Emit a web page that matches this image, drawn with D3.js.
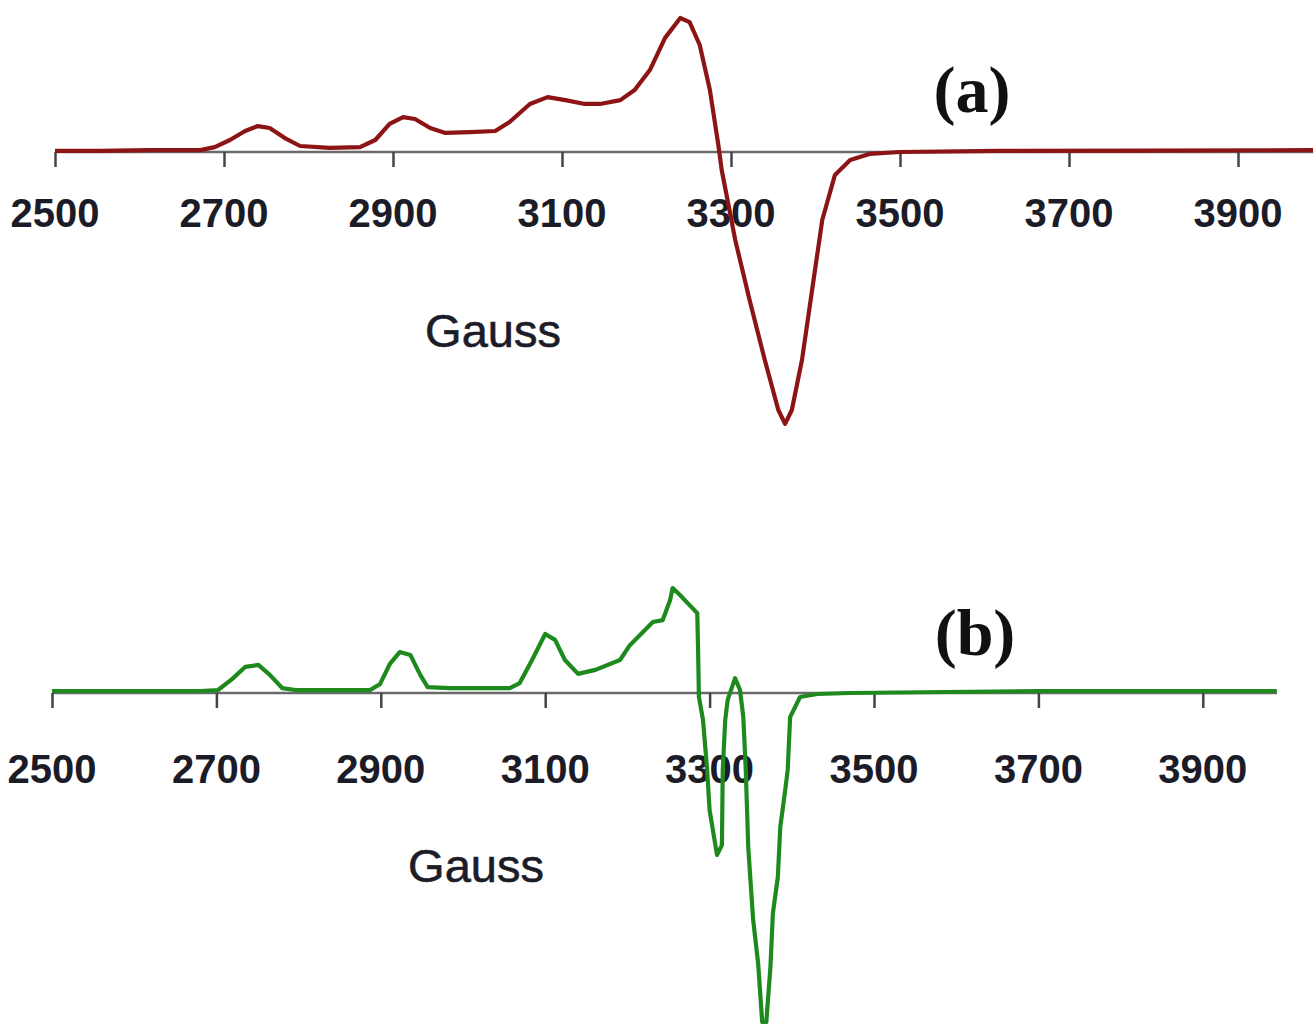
<!DOCTYPE html>
<html>
<head>
<meta charset="utf-8">
<script src="https://cdn.jsdelivr.net/npm/d3@7"></script>
<style>
    body { margin: 0; background: #fff; }
    svg { display: block; }
    .tick_label { font-family: "Liberation Sans", Arial, sans-serif; font-weight: bold; font-size: 40px; fill: #1c1c28; }
    .axis_title { font-family: "Liberation Sans", Arial, sans-serif; font-size: 47px; fill: #1c1c28; stroke: #1c1c28; stroke-width: 0.6px; }
    .panel_tag { font-family: "Liberation Serif", "Times New Roman", serif; font-weight: bold; font-size: 66px; fill: #111; }
</style>
</head>
<body>
<svg id="chart" width="1313" height="1028"></svg>
<script>
// data
const tick_values= [2500, 2700, 2900, 3100, 3300, 3500, 3700, 3900]

// spectrum (a) -- field in gauss, signal in arbitrary units
const field_a= [2500, 2553, 2612, 2672, 2689, 2707, 2725, 2740, 2754, 2772, 2790, 2825, 2861,
    2879, 2896, 2912, 2926, 2944, 2962, 2991, 3021, 3038, 3062, 3083, 3104, 3127, 3145,
    3169, 3186, 3204, 3222, 3240, 3251, 3263, 3275, 3285, 3289, 3305, 3322, 3340, 3356,
    3364, 3372, 3384, 3396, 3408, 3423, 3441, 3464, 3500, 3618, 3800, 4000]
const signal_a= [0.4, 0.4, 0.7, 0.7, 1.8, 4.4, 7.7, 9.5, 8.8, 5.1, 2.2, 1.5, 1.8,
    4.4, 10.3, 12.8, 12.1, 8.8, 7.0, 7.3, 7.7, 11.0, 17.6, 20.1, 19.0, 17.6, 17.6,
    19.0, 22.7, 30.0, 41.8, 49.1, 47.6, 39.2, 22.7, 2.6, -6.6, -32.2, -54.2, -76.2, -94.5,
    -99.6, -94.5, -76.2, -50.5, -24.9, -8.4, -2.9, -0.7, 0, 0.4, 0.5, 0.7]

// spectrum (b)
const field_b= [2500, 2583, 2680, 2702, 2719, 2735, 2751, 2765, 2780, 2796, 2887, 2899, 2911,
    2923, 2936, 2948, 2957, 2984, 3057, 3069, 3084, 3100, 3112, 3124, 3140, 3161, 3191,
    3203, 3231, 3243, 3252, 3255, 3264, 3273, 3285, 3286, 3287, 3292, 3297, 3300, 3309,
    3315, 3316, 3319, 3322, 3331, 3337, 3341, 3344, 3347, 3353, 3359, 3364, 3369, 3374,
    3377, 3383, 3386, 3392, 3395, 3398, 3410, 3431, 3471, 3700, 3990]
const signal_b= [0.6, 0.6, 0.6, 0.9, 4.2, 7.9, 8.5, 5.5, 1.5, 0.9, 0.9, 2.7, 8.8,
    12.4, 11.5, 5.5, 1.8, 1.5, 1.5, 3.0, 10.0, 17.9, 16.1, 10.0, 5.8, 7.0, 10.0,
    14.5, 21.5, 22.1, 28.2, 31.8, 29.7, 27.3, 24.2, 13.0, -1.2, -8.2, -23.3, -35.5, -49.1,
    -46.1, -23.3, -8.2, -2.1, 4.5, 0.9, -7.3, -23.3, -46.7, -68.8, -81.8, -99.7, -99.7, -83.0,
    -66.7, -55.8, -40.6, -29.4, -23.3, -7.3, -1.2, -0.3, 0, 0.6, 0.6]

const svg= d3.select("#chart")

function draw_panel({field, signal, color, x_range, y_range, axis_end, label_y, title_x, title_y, tag, tag_x, tag_y}) {
    // scales
    let x= d3.scaleLinear().domain([2500, 4000]).range(x_range)
    let y= d3.scaleLinear().domain([-100, 0]).range(y_range)
    let g= svg.append("g")

    // axis line + tick marks
    let axis= d3.axisBottom(x)
        .tickValues(tick_values)
        .tickSize(15)
        .tickFormat("")
    let axis_g= g.append("g")
        .attr("transform", `translate(0,${y(0)})`)
        .call(axis)
    axis_g.select(".domain")
        .attr("d", `M${x(2500)},0H${axis_end}`)
        .attr("stroke", "#6a6a6a")
        .attr("stroke-width", 2.5)
    axis_g.selectAll(".tick line")
        .attr("stroke", "#444")
        .attr("stroke-width", 2.5)

    // tick labels
    g.selectAll(".tick_label")
        .data(tick_values)
        .join("text")
        .attr("class", "tick_label")
        .attr("x", d => x(d))
        .attr("y", label_y)
        .attr("text-anchor", "middle")
        .text(d => d)

    // spectrum
    let line= d3.line()
        .x(d => x(d[0]))
        .y(d => y(d[1]))
    g.append("path")
        .datum(d3.zip(field, signal))
        .attr("d", line)
        .attr("fill", "none")
        .attr("stroke", color)
        .attr("stroke-width", 4.2)
        .attr("stroke-linejoin", "round")

    // texts
    g.append("text")
        .attr("class", "axis_title")
        .attr("x", title_x)
        .attr("y", title_y)
        .attr("text-anchor", "middle")
        .text("Gauss")
    g.append("text")
        .attr("class", "panel_tag")
        .attr("x", tag_x)
        .attr("y", tag_y)
        .attr("text-anchor", "middle")
        .text(tag)
}

draw_panel({
    field: field_a, signal: signal_a, color: "#8c1414",
    x_range: [55, 1322.5], y_range: [425, 152], axis_end: 1313,
    label_y: 227, title_x: 493, title_y: 347,
    tag: "(a)", tag_x: 972, tag_y: 112,
})
draw_panel({
    field: field_b, signal: signal_b, color: "#1e8a1e",
    x_range: [52, 1285], y_range: [1023, 693], axis_end: 1277,
    label_y: 783, title_x: 476, title_y: 882,
    tag: "(b)", tag_x: 975, tag_y: 655,
})
</script>
</body>
</html>
